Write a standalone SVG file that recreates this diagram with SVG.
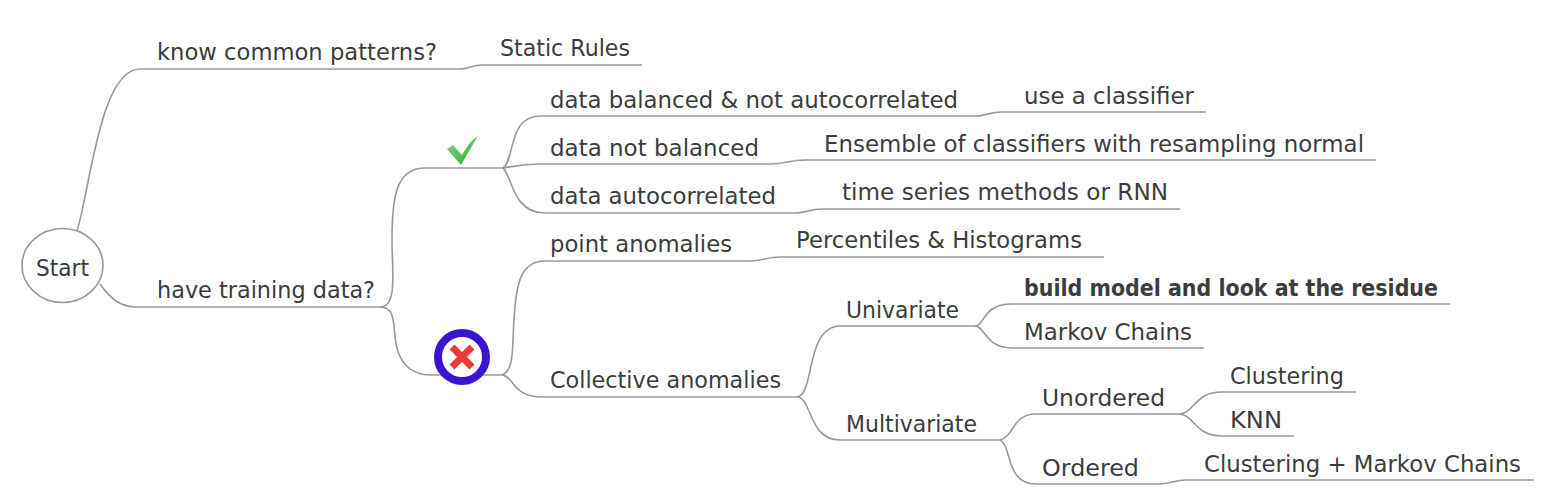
<svg xmlns="http://www.w3.org/2000/svg" width="1546" height="502" viewBox="0 0 1546 502">
<style>
.c{fill:none;stroke:#999;stroke-width:1.6}
text{font-family:"DejaVu Sans","Liberation Sans",sans-serif;font-size:22.5px;fill:#3c3c3c}
</style>
<defs>
<linearGradient id="g" x1="0" y1="0" x2="1" y2="1"><stop offset="0" stop-color="#8fd88f"/><stop offset="1" stop-color="#22b022"/></linearGradient>
</defs>
<rect width="1546" height="502" fill="#fff"/>
<g id="connectors">
<path class="c" d="M77 231C90 190 100 69 140 69H460C468 69 472 65 482 65H642"/>
<path class="c" d="M100 284C110 298 120 307 136 307H380C398 307 392 270 392 240C392 200 395 168 425 168H505"/>
<path class="c" d="M380 307C398 307 392 330 397 348C401 364 412 375 430 375H502"/>
<path class="c" d="M503 168C515 160 508 116 540 116H975C985 116 990 112 1002 112H1206"/>
<path class="c" d="M503 168C515 166 522 164 540 164H770C785 164 790 160 805 160H1376"/>
<path class="c" d="M503 168C512 175 512 213 545 213H795C805 213 810 209 822 209H1180"/>
<path class="c" d="M502 375C515 370 512 345 514 320C516 285 520 261 545 261H750C762 261 768 257 780 257H1104"/>
<path class="c" d="M502 375C514 376 512 397 542 397H797"/>
<path class="c" d="M797 397C815 395 805 327 840 326H975"/>
<path class="c" d="M797 397C812 397 808 440 840 440H1000"/>
<path class="c" d="M975 326C985 326 982 304 1012 304H1450"/>
<path class="c" d="M975 326C985 326 985 348 1012 348H1204"/>
<path class="c" d="M1000 440C1015 436 1012 414 1036 414H1180"/>
<path class="c" d="M1000 440C1012 445 1005 484 1036 484H1160C1170 484 1175 480 1186 480H1534"/>
<path class="c" d="M1180 414C1195 412 1195 392 1222 392H1356"/>
<path class="c" d="M1180 414C1195 416 1195 436 1222 436H1294"/>
</g>
<g id="start"><ellipse cx="62.5" cy="265.5" rx="40.5" ry="37" fill="#fff" stroke="#999" stroke-width="1.6"/><text x="36" y="276" textLength="53" lengthAdjust="spacingAndGlyphs">Start</text></g>
<g id="n1"><text x="157" y="60" textLength="280" lengthAdjust="spacingAndGlyphs">know common patterns?</text></g>
<g id="n2"><text x="500" y="56" textLength="130" lengthAdjust="spacingAndGlyphs">Static Rules</text></g>
<g id="n3"><text x="157" y="298" textLength="218" lengthAdjust="spacingAndGlyphs">have training data?</text></g>
<g id="yes"><path d="M447 149L453 145L462 155C467 147 470 141 478 136C472 145 467 155 461 165Z" fill="url(#g)"/></g>
<g id="no">
<circle cx="462" cy="357" r="24" fill="#fff" stroke="#3a14d0" stroke-width="8"/>
<path d="M452 347L472 367M472 347L452 367" stroke="#ee3a3a" stroke-width="7" fill="none"/>
</g>
<g id="n4"><text x="550" y="108" textLength="408" lengthAdjust="spacingAndGlyphs">data balanced &amp; not autocorrelated</text></g>
<g id="n5"><text x="1024" y="104" textLength="170" lengthAdjust="spacingAndGlyphs">use a classifier</text></g>
<g id="n6"><text x="550" y="156" textLength="209" lengthAdjust="spacingAndGlyphs">data not balanced</text></g>
<g id="n7"><text x="824" y="152" textLength="540" lengthAdjust="spacingAndGlyphs">Ensemble of classifiers with resampling normal</text></g>
<g id="n8"><text x="550" y="204" textLength="226" lengthAdjust="spacingAndGlyphs">data autocorrelated</text></g>
<g id="n9"><text x="842" y="200" textLength="326" lengthAdjust="spacingAndGlyphs">time series methods or RNN</text></g>
<g id="n10"><text x="550" y="252" textLength="182" lengthAdjust="spacingAndGlyphs">point anomalies</text></g>
<g id="n11"><text x="796" y="248" textLength="286" lengthAdjust="spacingAndGlyphs">Percentiles &amp; Histograms</text></g>
<g id="n12"><text x="550" y="388" textLength="231" lengthAdjust="spacingAndGlyphs">Collective anomalies</text></g>
<g id="n13"><text x="846" y="318" textLength="113" lengthAdjust="spacingAndGlyphs">Univariate</text></g>
<g id="n14"><text x="1024" y="296" textLength="414" lengthAdjust="spacingAndGlyphs" font-weight="bold">build model and look at the residue</text></g>
<g id="n15"><text x="1024" y="340" textLength="168" lengthAdjust="spacingAndGlyphs">Markov Chains</text></g>
<g id="n16"><text x="846" y="432" textLength="131" lengthAdjust="spacingAndGlyphs">Multivariate</text></g>
<g id="n17"><text x="1042" y="406" textLength="123" lengthAdjust="spacingAndGlyphs">Unordered</text></g>
<g id="n18"><text x="1230" y="384" textLength="114" lengthAdjust="spacingAndGlyphs">Clustering</text></g>
<g id="n19"><text x="1230" y="428" textLength="52" lengthAdjust="spacingAndGlyphs">KNN</text></g>
<g id="n20"><text x="1042" y="476" textLength="97" lengthAdjust="spacingAndGlyphs">Ordered</text></g>
<g id="n21"><text x="1204" y="472" textLength="317" lengthAdjust="spacingAndGlyphs">Clustering + Markov Chains</text></g>
</svg>
